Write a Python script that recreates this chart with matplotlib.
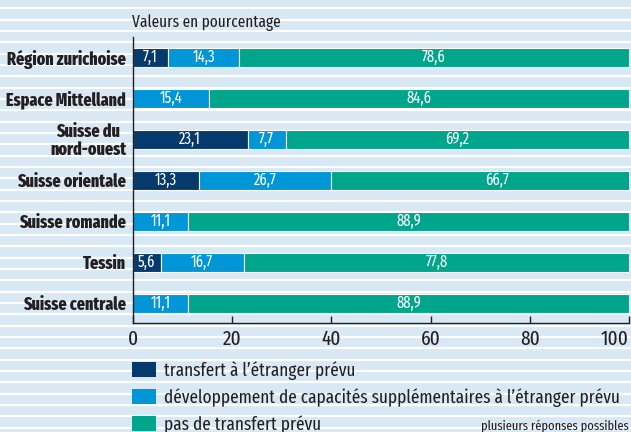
import numpy as np
import matplotlib.pyplot as plt
from matplotlib import font_manager as fm
from matplotlib.patches import Patch

# Data
regions = ['Région zurichoise', 'Espace Mittelland', 'Suisse du\nnord-ouest',
           'Suisse orientale', 'Suisse romande', 'Tessin', 'Suisse centrale']
transfert = [7.1, 0.0, 23.1, 13.3, 0.0, 5.6, 0.0]
capacites = [14.3, 15.4, 7.7, 26.7, 11.1, 16.7, 11.1]
pas_transfert = [78.6, 84.6, 69.2, 66.7, 88.9, 77.8, 88.9]
series_names = ['transfert à l’étranger prévu',
                'développement de capacités supplémentaires à l’étranger prévu',
                'pas de transfert prévu']
xticks = [0, 20, 40, 60, 80, 100]

colors = ['#063a6d', '#0096d8', '#00a68b']
bg = '#d8e8f5'
txt = '#231f20'

# pick a condensed face if one is installed
installed = {f.name for f in fm.fontManager.ttflist}
wanted = ['Fira Sans Extra Condensed', 'PT Sans Narrow', 'Roboto Condensed',
          'Barlow Condensed', 'Archivo Narrow']
font = [f for f in wanted if f in installed][:1] + ['DejaVu Sans']
plt.rcParams['font.family'] = font

W, H = 631, 432
fig = plt.figure(figsize=(W / 100, H / 100), dpi=100)
fig.patch.set_facecolor(bg)

# striped background
bgax = fig.add_axes([0, 0, 1, 1], zorder=-1)
bgax.set_xlim(0, W)
bgax.set_ylim(H, 0)
bgax.axis('off')
for yy in np.arange(8.3, H, 11.33):
    bgax.axhline(yy, color='white', lw=1.6)

ax = fig.add_axes([133 / W, 1 - 323 / H, 496 / W, 286 / H])
ax.set_facecolor('none')

y = np.arange(len(regions))
h = 0.46
series = [transfert, capacites, pas_transfert]
left = np.zeros(len(regions))
for vals, c in zip(series, colors):
    vals = np.array(vals)
    ax.barh(y, vals, left=left, height=h, color=c, edgecolor='white', linewidth=0.8)
    for yi, l, v in zip(y, left, vals):
        if v > 0:
            ax.text(l + v / 2, yi, f'{v:.1f}'.replace('.', ','), ha='center', va='center',
                    color='white', fontsize=11.5)
    left = left + vals

ax.set_xlim(0, 100)
ax.set_ylim(len(regions) - 0.52, -0.49)
ax.set_xticks(xticks)
ax.set_xticklabels([str(t) for t in xticks], fontsize=15, color=txt)
ax.get_xticklabels()[-1].set_ha('right')
ax.tick_params(axis='x', direction='in', length=5, width=1, color=txt, pad=5)
ax.set_yticks(y)
ax.set_yticklabels(regions, fontsize=12.5, fontweight=800, color=txt,
                   multialignment='center', linespacing=1.0)
ax.tick_params(axis='y', length=0, pad=5)
for s in ['top', 'right']:
    ax.spines[s].set_visible(False)
for s in ['left', 'bottom']:
    ax.spines[s].set_color(txt)
    ax.spines[s].set_linewidth(1)

ax.annotate('Valeurs en pourcentage', xy=(0, 1), xycoords='axes fraction',
            xytext=(-1, 7), textcoords='offset points', ha='left', va='baseline',
            fontsize=12, color=txt)

handles = [Patch(facecolor=c, edgecolor='none') for c in colors]
fig.legend(handles, series_names, loc='upper left', bbox_to_anchor=(132 / W, 1 - 361 / H),
           frameon=False, borderpad=0, borderaxespad=0, handlelength=1.28,
           handleheight=0.82, handletextpad=0.42, labelspacing=0.45,
           prop={'size': 13.5, 'family': font}, labelcolor=txt)

fig.text(629 / W, 1 - 426 / H, 'plusieurs réponses possibles', ha='right', va='center',
         fontsize=9.7, color=txt)

fig.savefig('out.png', dpi=100, facecolor=bg)
